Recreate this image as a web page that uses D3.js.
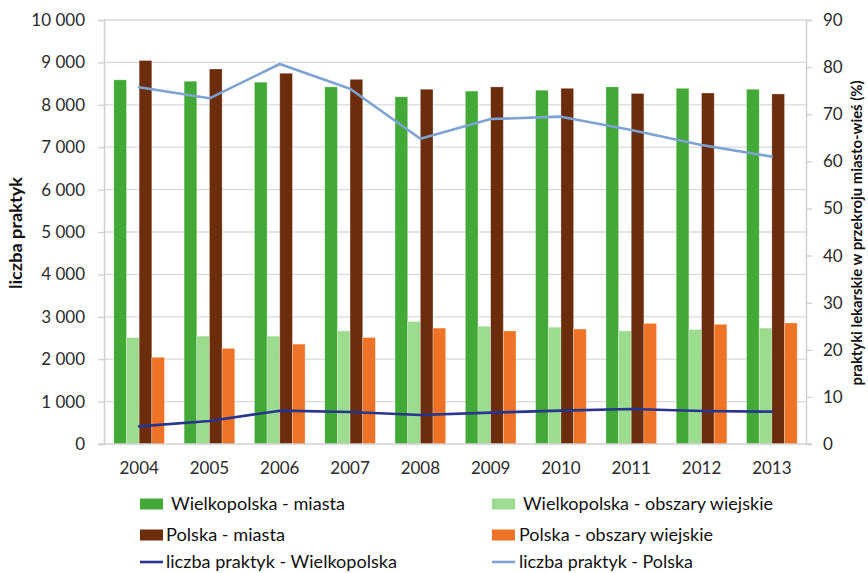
<!DOCTYPE html>
<html lang="pl">
<head>
<meta charset="utf-8">
<script src="https://cdn.jsdelivr.net/npm/d3@7/dist/d3.min.js"></script>
<style>
  html, body { margin: 0; padding: 0; background: #fff; }
  svg { display: block; font-family: Lato, "Open Sans", sans-serif; }
</style>
</head>
<body>
<svg id="chart" width="868" height="573"></svg>
<script>
// Lata
const years = ["2004", "2005", "2006", "2007", "2008", "2009", "2010", "2011", "2012", "2013"];

// Udział praktyk lekarskich (%) – oś prawa
const wlkpMiasta = [77.3, 77.0, 76.8, 75.8, 73.7, 74.9, 75.1, 75.8, 75.5, 75.3];
const wlkpWies   = [22.6, 22.9, 22.9, 24.0, 26.0, 25.0, 24.8, 24.0, 24.3, 24.6];
const plMiasta   = [81.4, 79.6, 78.7, 77.4, 75.3, 75.8, 75.5, 74.4, 74.5, 74.3];
const plWies     = [18.4, 20.3, 21.2, 22.6, 24.6, 24.0, 24.4, 25.6, 25.4, 25.7];

// Liczba praktyk – oś lewa
const liczbaWlkp   = [415, 542, 786, 755, 684, 739, 786, 825, 778, 763];
const liczbaPolska = [8413, 8153, 8962, 8380, 7200, 7665, 7720, 7406, 7052, 6777];

// Podziałki osi
const leftTicks  = [0, 1000, 2000, 3000, 4000, 5000, 6000, 7000, 8000, 9000, 10000];
const rightTicks = [0, 10, 20, 30, 40, 50, 60, 70, 80, 90];

const barSeries = [
  { key: "Wielkopolska - miasta", values: wlkpMiasta, color: "#43a936" },
  { key: "Wielkopolska - obszary wiejskie", values: wlkpWies, color: "#9bdc8e" },
  { key: "Polska - miasta", values: plMiasta, color: "#6b2d0c" },
  { key: "Polska - obszary wiejskie", values: plWies, color: "#ee7326" }
];
const lineSeries = [
  { key: "liczba praktyk - Wielkopolska", values: liczbaWlkp, color: "#27358f" },
  { key: "liczba praktyk - Polska", values: liczbaPolska, color: "#7da2d4" }
];

const svg = d3.select("#chart");
const plot = { left: 104, right: 807, top: 20, bottom: 444 };
const textColor = "#2b2b2b";

const x = d3.scaleBand().domain(years).range([plot.left, plot.right])
  .paddingInner(0.28).paddingOuter(0.14);
const xInner = d3.scaleBand().domain(barSeries.map(s => s.key)).range([0, x.bandwidth()]);
const yLeft = d3.scaleLinear().domain([0, 10000]).range([plot.bottom, plot.top]);
const yRight = d3.scaleLinear().domain([0, 90]).range([plot.bottom, plot.top]);

const pl = d3.formatLocale({ decimal: ",", thousands: " ", grouping: [3], currency: ["", " zł"] });
const fmt = pl.format(",.0f");

// Linie siatki
svg.append("g").selectAll("line").data(leftTicks.slice(1)).join("line")
  .attr("x1", plot.left).attr("x2", plot.right)
  .attr("y1", d => yLeft(d)).attr("y2", d => yLeft(d))
  .attr("stroke", "#d9d9d9").attr("stroke-width", 1.3);

// Oś lewa
const axL = svg.append("g").attr("transform", `translate(${plot.left},0)`)
  .call(d3.axisLeft(yLeft).tickValues(leftTicks).tickFormat(fmt).tickSize(6).tickPadding(13));
axL.select(".domain").attr("stroke", "#d0d0d0").attr("stroke-width", 1.5);
axL.selectAll(".tick line").attr("stroke", "#d0d0d0").attr("stroke-width", 1.3);
axL.selectAll("text").attr("font-size", 17).attr("fill", textColor).attr("font-family", "Lato");

// Oś prawa
const axR = svg.append("g").attr("transform", `translate(${plot.right - 1},0)`)
  .call(d3.axisRight(yRight).tickValues(rightTicks).tickSize(6).tickPadding(11));
axR.select(".domain").attr("stroke", "#d0d0d0").attr("stroke-width", 1.5);
axR.selectAll(".tick line").attr("stroke", "#d0d0d0").attr("stroke-width", 1.3);
axR.selectAll("text").attr("font-size", 17).attr("fill", textColor).attr("font-family", "Lato");

// Słupki
const groups = svg.append("g").selectAll("g").data(years).join("g")
  .attr("transform", d => `translate(${x(d)},0)`);
groups.selectAll("rect")
  .data((d, i) => barSeries.map(s => ({ key: s.key, value: s.values[i], color: s.color })))
  .join("rect")
  .attr("x", d => xInner(d.key))
  .attr("width", xInner.bandwidth())
  .attr("y", d => yRight(d.value))
  .attr("height", d => yRight(0) - yRight(d.value))
  .attr("fill", d => d.color)
  .attr("stroke", "rgba(255,255,255,0.35)").attr("stroke-width", 0.8);

// Oś dolna
const axB = svg.append("g").attr("transform", `translate(0,${plot.bottom})`)
  .call(d3.axisBottom(x).tickSize(0).tickPadding(18));
axB.select(".domain").attr("stroke", "#d0d0d0").attr("stroke-width", 1.5)
  .attr("d", `M${plot.left - 6},0H${plot.right + 5}`);
axB.selectAll("text").attr("font-size", 17).attr("fill", textColor).attr("font-family", "Lato");

// Linie – liczba praktyk
const line = d3.line().x((d, i) => x(years[i]) + x.bandwidth() / 2).y(d => yLeft(d));
svg.append("g").selectAll("path").data(lineSeries).join("path")
  .attr("d", d => line(d.values))
  .attr("fill", "none").attr("stroke", d => d.color)
  .attr("stroke-width", 2.6).attr("stroke-linejoin", "round").attr("stroke-linecap", "round");

// Tytuły osi
svg.append("text")
  .attr("transform", "translate(22,233) rotate(-90)")
  .attr("text-anchor", "middle")
  .attr("font-family", "Lato").attr("font-weight", "bold").attr("font-size", 17)
  .attr("fill", "#111")
  .attr("textLength", 112).attr("lengthAdjust", "spacingAndGlyphs")
  .text("liczba praktyk");
svg.append("text")
  .attr("transform", "translate(862,233) rotate(-90)")
  .attr("text-anchor", "middle")
  .attr("font-family", "Lato").attr("font-weight", "bold").attr("font-size", 15.5)
  .attr("fill", "#111")
  .attr("textLength", 305).attr("lengthAdjust", "spacingAndGlyphs")
  .text("praktyki lekarskie w przekroju miasto-wieś (%)");

// Legenda
const legendItems = [
  { s: barSeries[0], type: "rect", x: 140, y: 504, tx: 171, w: 174 },
  { s: barSeries[1], type: "rect", x: 492, y: 504, tx: 523, w: 250 },
  { s: barSeries[2], type: "rect", x: 140, y: 535, tx: 166, w: 119 },
  { s: barSeries[3], type: "rect", x: 492, y: 535, tx: 519, w: 194 },
  { s: lineSeries[0], type: "line", x: 140, y: 562, tx: 166, w: 231 },
  { s: lineSeries[1], type: "line", x: 492, y: 562, tx: 519, w: 174 }
];
const lg = svg.append("g").selectAll("g").data(legendItems).join("g");
lg.filter(d => d.type === "rect").append("rect")
  .attr("x", d => d.x).attr("y", d => d.y - 5.5)
  .attr("width", 23).attr("height", 11)
  .attr("fill", d => d.s.color);
lg.filter(d => d.type === "line").append("line")
  .attr("x1", d => d.x).attr("x2", d => d.x + 23)
  .attr("y1", d => d.y).attr("y2", d => d.y)
  .attr("stroke", d => d.s.color).attr("stroke-width", 2.6);
lg.append("text")
  .attr("x", d => d.tx).attr("y", d => d.y)
  .attr("dy", "0.35em")
  .attr("font-family", "Lato").attr("font-size", 17).attr("fill", "#111")
  .attr("textLength", d => d.w).attr("lengthAdjust", "spacingAndGlyphs")
  .text(d => d.s.key);
</script>
</body>
</html>
